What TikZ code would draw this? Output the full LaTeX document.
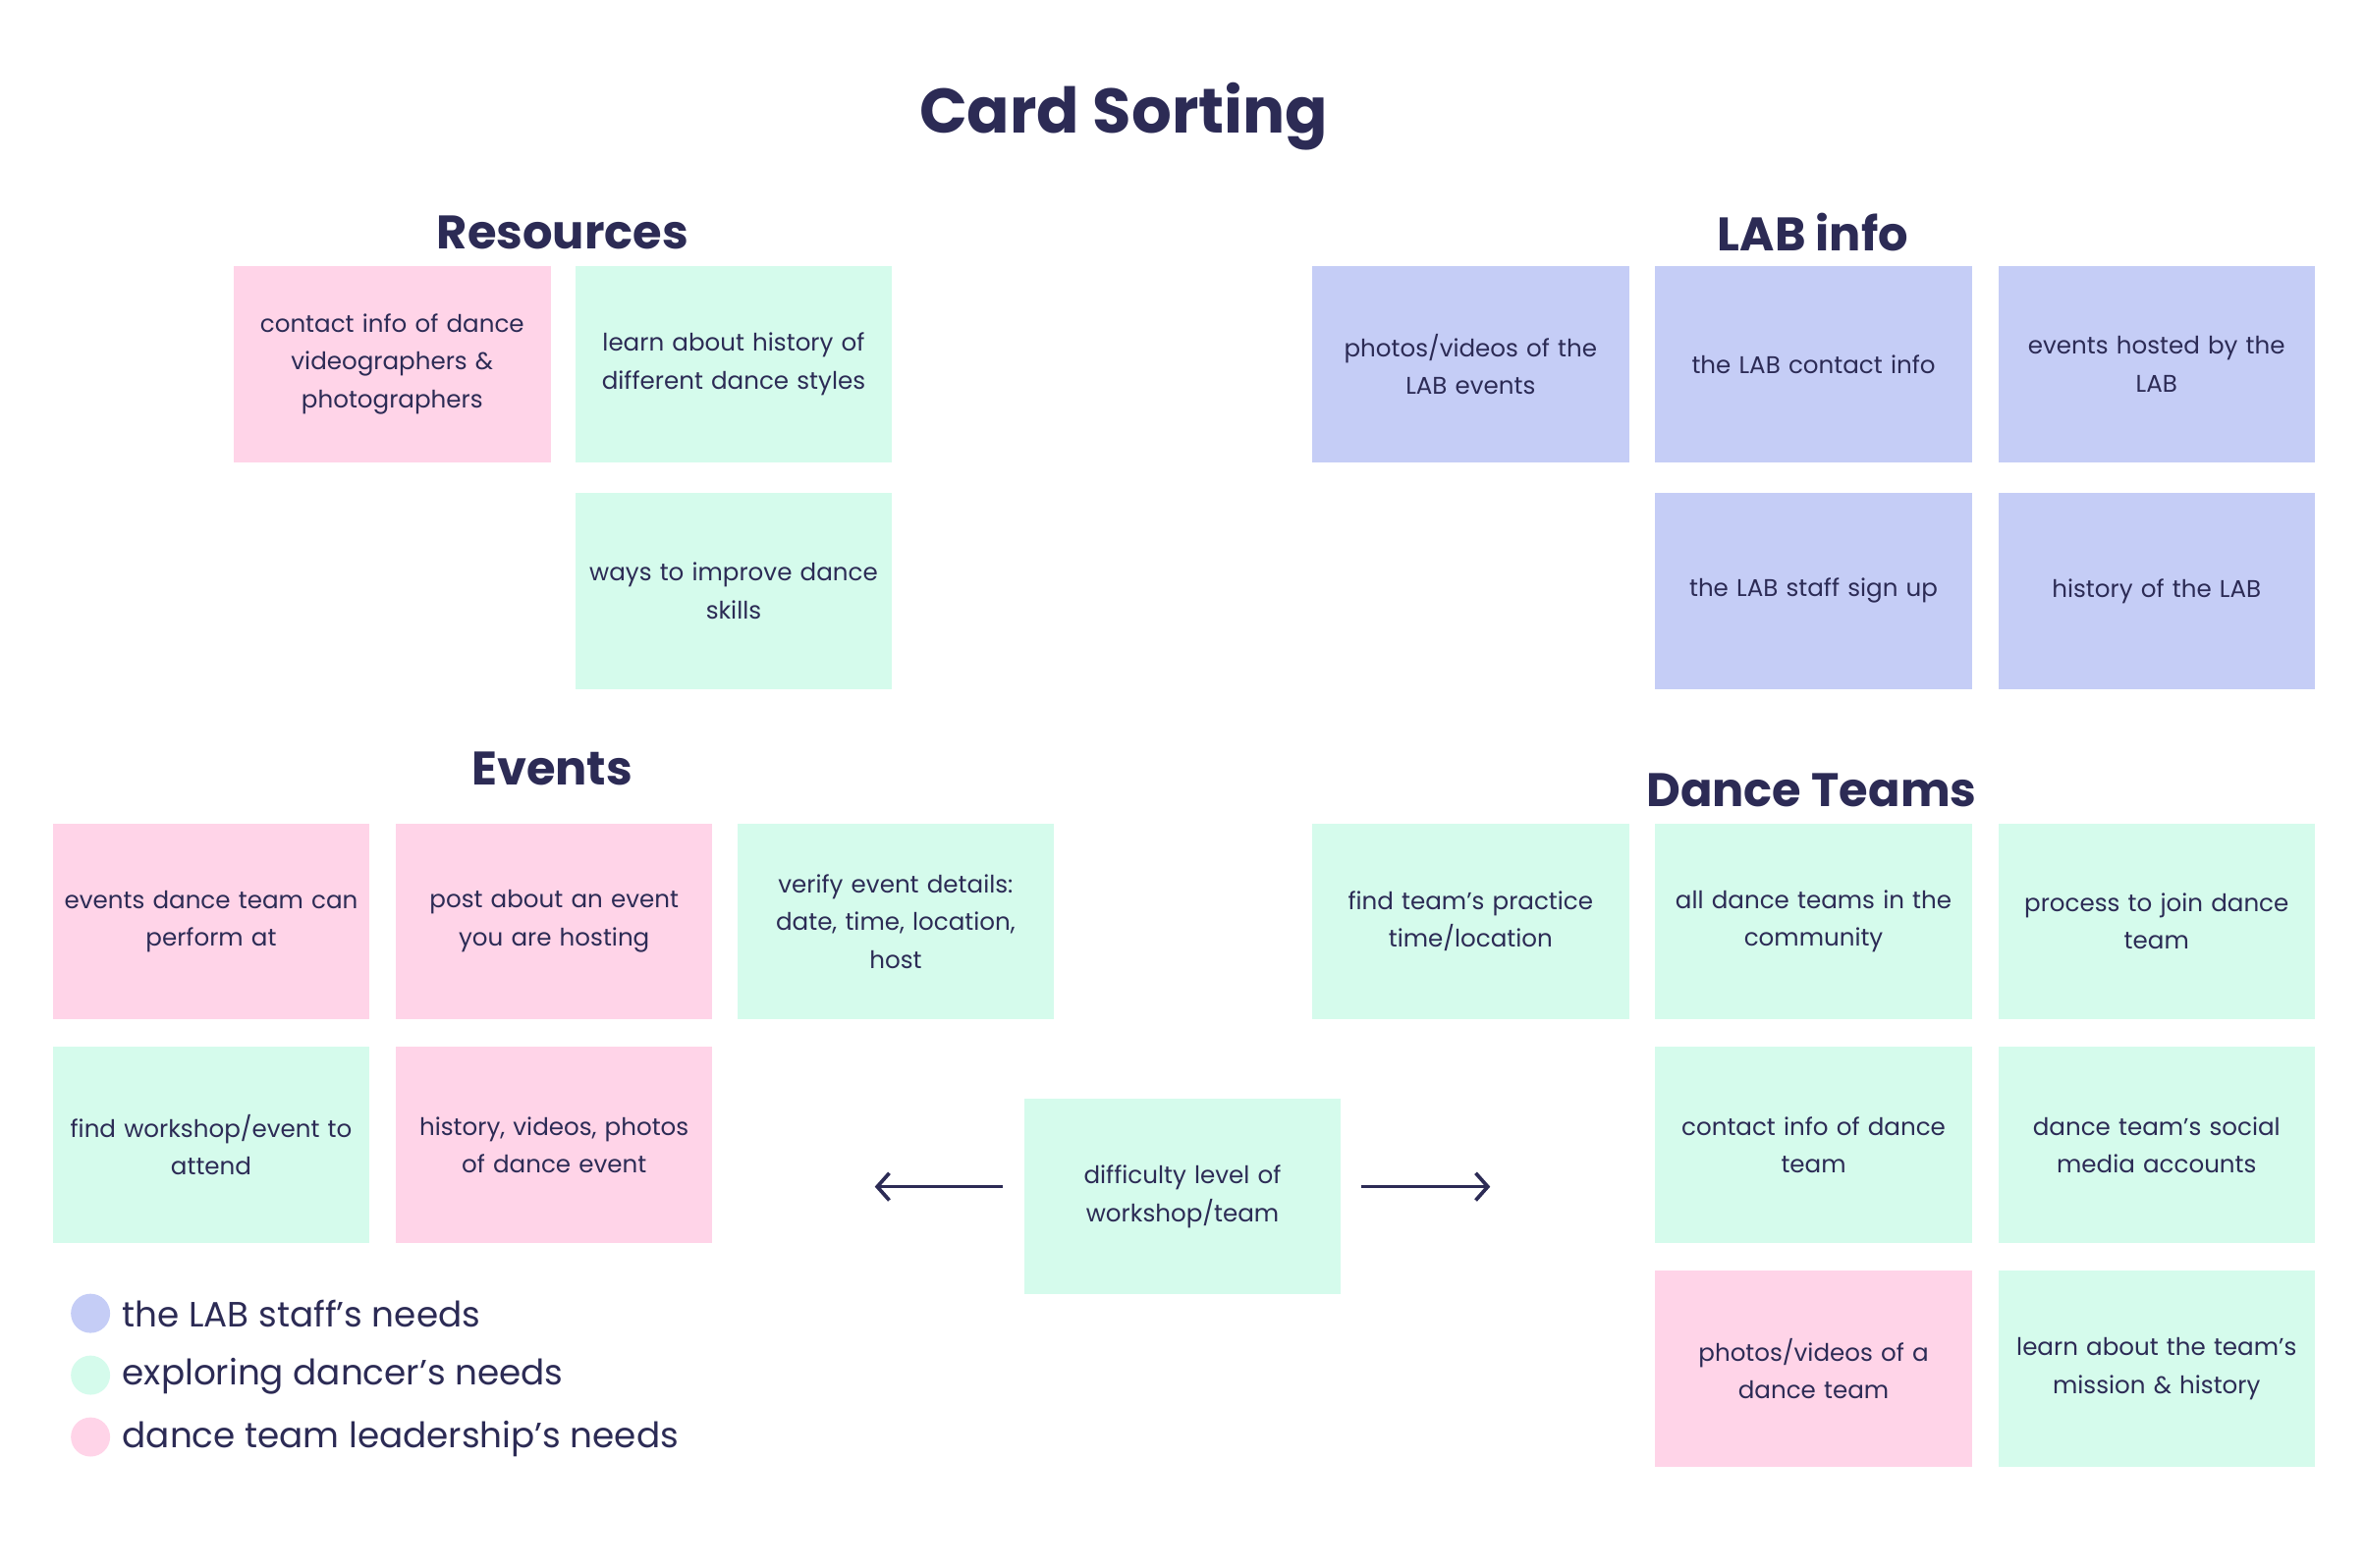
\documentclass[tikz,border=0pt]{standalone}
\usepackage{fontspec}
\setmainfont{Poppins}
\usepackage{tikz}
\usetikzlibrary{positioning, arrows.meta}
\definecolor{navy}{HTML}{2C2B55}
\definecolor{cardpink}{HTML}{FFD4E8}
\definecolor{cardgreen}{HTML}{D5FBEC}
\definecolor{cardblue}{HTML}{C5CDF6}
\tikzstyle{card} = [rectangle, minimum width=210pt, minimum height=130pt, inner sep=0pt, text width=206pt, align=center, text=navy, font=\fontsize{16}{25}\selectfont]
\tikzstyle{staff} = [card, fill=cardblue]
\tikzstyle{dancer} = [card, fill=cardgreen]
\tikzstyle{leader} = [card, fill=cardpink]
\tikzstyle{heading} = [text=navy, inner sep=0pt, font=\fontsize{31.2}{36}\selectfont\bfseries]
\tikzstyle{arrow} = [line width=2.4pt, draw=navy, -{Straight Barb[length=8pt, width=18pt, line width=2.4pt]}]
\tikzset{
	dot/.style = {circle, minimum size=26pt, inner sep=0pt},
	legend/.style = {anchor=west, inner sep=0pt, text=navy, font=\fontsize{23.3}{28}\selectfont}
}

\begin{document}
\begin{tikzpicture}[x=1pt, y=1pt, node distance=18pt]
\useasboundingbox (0,0) rectangle (1568,-1039.8);
%----------------------------------------------------------------------------
% Titles
\node (title) [heading, font=\fontsize{41.7}{48}\selectfont\bfseries] at (745,-77) {Card Sorting};
\node (resTitle) [heading] at (373,-154) {Resources};
\node (labTitle) [heading] at (1202,-154) {LAB info};
\node (evTitle) [heading] at (366,-510) {Events};
\node (teamTitle) [heading] at (1201,-524) {Dance Teams};

%----------------------------------------------------------------------------
% Resources cards
\node (res1) [leader] at (260,-241.5) {contact info of dance\\ videographers \&\\ photographers};
\node (res2) [dancer, right = 16pt of res1] {learn about history of\\ different dance styles};
\node (res3) [dancer, below = 20pt of res2] {ways to improve dance\\ skills};

% LAB info cards
\node (lab1) [staff] at (975,-241.5) {photos/videos of the\\ LAB events};
\node (lab2) [staff, right = 17pt of lab1] {the LAB contact info};
\node (lab3) [staff, right = 17pt of lab2] {events hosted by the\\ LAB};
\node (lab4) [staff, below = 20pt of lab2] {the LAB staff sign up};
\node (lab5) [staff, below = 20pt of lab3] {history of the LAB};

% Events cards
\node (ev1) [leader] at (140,-611) {events dance team can\\ perform at};
\node (ev2) [leader, right = 17pt of ev1] {post about an event\\ you are hosting};
\node (ev3) [dancer, right = 16pt of ev2] {verify event details:\\ date, time, location,\\ host};
\node (ev4) [dancer, below = 18pt of ev1] {find workshop/event to\\ attend};
\node (ev5) [leader, below = 18pt of ev2] {history, videos, photos\\ of dance event};

% Dance Teams cards
\node (team1) [dancer] at (975,-611) {find team’s practice\\ time/location};
\node (team2) [dancer, right = 17pt of team1] {all dance teams in the\\ community};
\node (team3) [dancer, right = 17pt of team2] {process to join dance\\ team};
\node (team4) [dancer, below = 18pt of team2] {contact info of dance\\ team};
\node (team5) [dancer, below = 18pt of team3] {dance team’s social\\ media accounts};
\node (team6) [leader, below = 18pt of team4] {photos/videos of a\\ dance team};
\node (team7) [dancer, below = 18pt of team5] {learn about the team’s\\ mission \& history};

% shared card
\node (level) [dancer] at (784,-793.5) {difficulty level of\\ workshop/team};
\coordinate (toEvents) at (580,-787);
\coordinate (toTeams) at (988,-787);

%----------------------------------------------------------------------------
% Draw arrows
\draw [arrow] ([xshift=-14pt, yshift=6.5pt] level.west) -- (toEvents);
\draw [arrow] ([xshift=13pt, yshift=6.5pt] level.east) -- (toTeams);

%----------------------------------------------------------------------------
% Legend
\node (dotStaff) [dot, fill=cardblue] at (60,-871) {};
\node (dotDancer) [dot, fill=cardgreen] at (60,-912) {};
\node (dotLeader) [dot, fill=cardpink] at (60,-953) {};
\node (keyStaff) [legend] at (81,-871) {the LAB staff’s needs};
\node (keyDancer) [legend] at (81,-913) {exploring dancer’s needs};
\node (keyLeader) [legend] at (81,-954) {dance team leadership’s needs};

\end{tikzpicture}
\end{document}
